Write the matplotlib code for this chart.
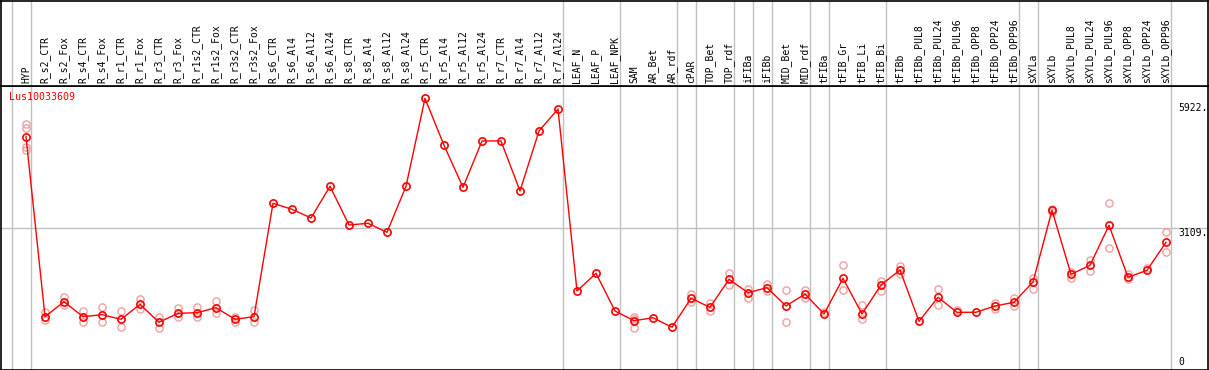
import matplotlib
matplotlib.use("Agg")
import matplotlib.pyplot as plt
import matplotlib.transforms as mtransforms

plt.rcParams['font.family'] = ['DejaVu Sans Mono']
plt.rcParams['font.size'] = 7

# --- data ---
gene = "Lus10033609"

samples = [
    "HYP",
    "R_s2_CTR", "R_s2_Fox", "R_s4_CTR", "R_s4_Fox", "R_r1_CTR", "R_r1_Fox",
    "R_r3_CTR", "R_r3_Fox", "R_r1s2_CTR", "R_r1s2_Fox", "R_r3s2_CTR", "R_r3s2_Fox",
    "R_s6_CTR", "R_s6_Al4", "R_s6_Al12", "R_s6_Al24",
    "R_s8_CTR", "R_s8_Al4", "R_s8_Al12", "R_s8_Al24",
    "R_r5_CTR", "R_r5_Al4", "R_r5_Al12", "R_r5_Al24",
    "R_r7_CTR", "R_r7_Al4", "R_r7_Al12", "R_r7_Al24",
    "LEAF_N", "LEAF_P", "LEAF_NPK",
    "SAM", "AR_Bet", "AR_rdf", "cPAR", "TOP_Bet", "TOP_rdf",
    "iFIBa", "iFIBb", "MID_Bet", "MID_rdf",
    "tFIBa", "tFIB_Gr", "tFIB_Li", "tFIB_Bi",
    "tFIBb", "tFIBb_PUL8", "tFIBb_PUL24", "tFIBb_PUL96",
    "tFIBb_OPP8", "tFIBb_OPP24", "tFIBb_OPP96",
    "sXYLa", "sXYLb", "sXYLb_PUL8", "sXYLb_PUL24", "sXYLb_PUL96",
    "sXYLb_OPP8", "sXYLb_OPP24", "sXYLb_OPP96",
]

means = [
    5088,
    1179, 1505, 1179, 1223, 1123, 1448,
    1058, 1253, 1266, 1375, 1123, 1179,
    3642, 3511, 3323, 4011,
    3171, 3207, 3012, 4011,
    5922, 4901, 3989, 4995,
    4995, 3909, 5212, 5690,
    1737, 2122, 1303,
    1092, 1157, 949, 1579, 1383, 1991,
    1700, 1809, 1412, 1672,
    1238, 2013, 1238, 1868,
    2193, 1079, 1600, 1275,
    1275, 1412, 1492,
    1933, 3490, 2100, 2295, 3164,
    2035, 2187, 2795,
]

replicates = [
    [5357, 5284, 4858, 4799],
    [1288, 1108], [1600, 1433], [1303, 1058], [1383, 1058], [1303, 949], [1557, 1340],
    [1179, 940], [1362, 1179], [1396, 1166], [1527, 1266], [1179, 1071], [1325, 1071],
    [], [], [], [],
    [], [], [], [],
    [], [], [], [],
    [], [], [], [],
    [], [], [],
    [1179, 1130, 940], [], [], [1666, 1492], [1470, 1309], [2122, 1868],
    [1787, 1579], [1889, 1737], [1752, 1058], [1759, 1579],
    [1288], [2302, 1752], [1427, 1123], [1961, 1737],
    [2280, 2106], [], [1781, 1427], [1325],
    [], [1470, 1353], [1579, 1412],
    [2026, 1787], [3518, 3446], [2156, 2020], [2410, 2178], [3642, 2665],
    [2106, 1991], [2243], [3012, 2578],
]

group_breaks = [-1, 0, 28, 31, 34, 35, 37, 38, 39, 41, 42, 45, 52, 53, 60]
axis_labels = ["5922.", "3109.", "0"]
axis_values = [5922, 3109, 0]
ref_level = 3109

# --- layout (pixels) ---
W, H = 1209, 370
fig = plt.figure(figsize=(W / 100, H / 100), dpi=100)
fig.patch.set_facecolor('white')

ax = fig.add_axes([0.5 / W, 0.5 / H, 1207 / W, 283.5 / H])
hx = fig.add_axes([0.5 / W, 284 / H, 1207 / W, 85.5 / H], sharex=ax)

x = list(range(len(samples)))
x0 = -25.5 / 19
ax.set_xlim(x0, x0 + 1207 / 19)
ax.set_ylim(32.6, 6189)

red = '#ff0000'
light = '#eea0a0'
grey = '#c0c0c0'

for a in (ax, hx):
    a.set_xticks([])
    a.set_yticks([])
    for s in a.spines.values():
        s.set_color('black')
        s.set_linewidth(1.2)
    for b in group_breaks:
        a.axvline(b + 4.5 / 19, color=grey, lw=1, zorder=0)

ax.axhline(ref_level, color=grey, lw=1, zorder=0)

# replicate points
rx, ry = [], []
for i, reps in enumerate(replicates):
    for r in reps:
        rx.append(i)
        ry.append(r)
ax.plot(rx, ry, linestyle='none', marker='o', markersize=5.2, fillstyle='none',
        markeredgecolor=light, markeredgewidth=1.0, zorder=2)

# mean line
ax.plot(x, means, color=red, lw=1, marker='o', markersize=5.2, fillstyle='none',
        markeredgecolor=red, markeredgewidth=1.2, zorder=3)

# gene name
gtrans = mtransforms.blended_transform_factory(ax.transData, ax.transAxes)
ax.text(x0 + 9 / 19, 1 - 6 / 283.5, gene, color=red, ha='left', va='top',
        transform=gtrans, fontsize=7.2)

# right-hand value labels
lab_x = (1178 - 26) / 19
offsets = [(-5, 'top'), (0, 'top'), (4, 'bottom')]
for lab, val, (dy, va) in zip(axis_labels, axis_values, offsets):
    ax.annotate(lab, xy=(lab_x, val), xytext=(0, dy), textcoords='offset pixels',
                ha='left', va=va, annotation_clip=False)

# header sample names
htrans = mtransforms.blended_transform_factory(hx.transData, hx.transAxes)
for i, name in enumerate(samples):
    hx.text(i, 3 / 85.5, name, rotation=90, ha='center', va='bottom',
            transform=htrans, color='black')

fig.savefig('out.png', dpi=100, facecolor='white')
